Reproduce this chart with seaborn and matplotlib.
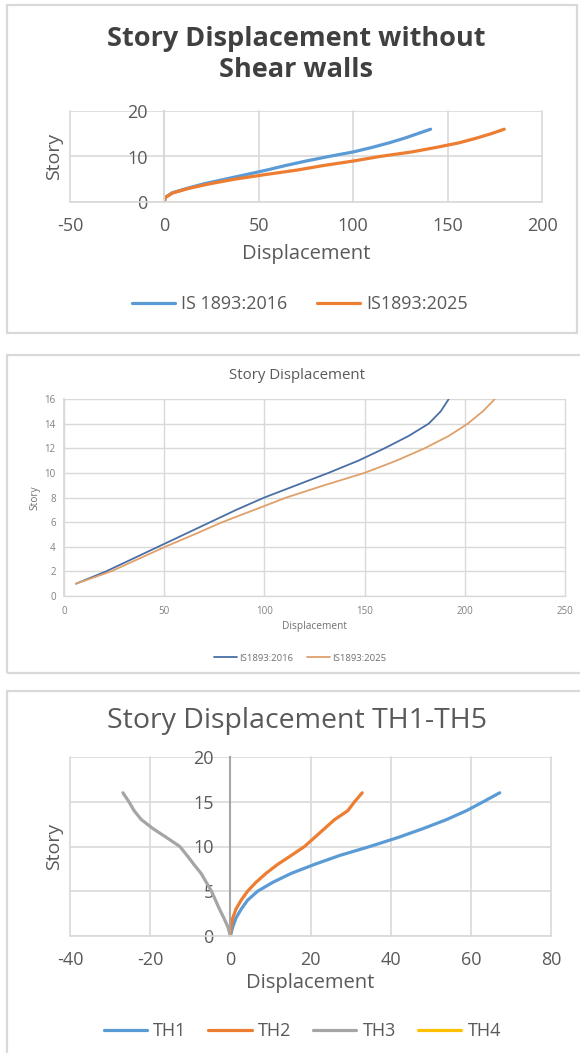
import matplotlib
matplotlib.use("Agg")
import matplotlib.pyplot as plt
from matplotlib.patches import Rectangle
import seaborn as sns
import pandas as pd

# ---------------- data ----------------
# Panel 1: Story Displacement without Shear walls
p1_story = list(range(0, 17))
p1_is2016 = [0, 0.5, 4, 12, 21, 32, 43, 54, 64, 75, 87, 100, 110, 119, 127, 134, 141]
p1_is2025 = [0, 0.5, 4.5, 13, 24, 37, 53, 70, 84, 100, 114, 131, 144, 156, 165, 173, 180]
p1_labels = ["IS 1893:2016", "IS1893:2025"]
p1_xticks = [-50, 0, 50, 100, 150, 200]
p1_yticks = [0, 10, 20]

# Panel 2: Story Displacement
p2_story = list(range(1, 17))
p2_is2016 = [6, 21, 34, 47, 60, 73, 86, 100, 116, 132, 147, 160, 172, 182, 188, 192]
p2_is2025 = [6, 23.5, 37, 50.5, 65, 79, 95, 111, 130, 150, 166, 180, 192, 201.5, 209, 215]
p2_labels = ["IS1893:2016", "IS1893:2025"]
p2_xticks = [0, 50, 100, 150, 200, 250]
p2_yticks = [0, 2, 4, 6, 8, 10, 12, 14, 16]

# Panel 3: Story Displacement TH1-TH5
p3_story = list(range(0, 17))
p3_th1 = [0, 0.6, 1.4, 2.7, 4.3, 6.8, 10.6, 15.2, 21, 27.3, 34.8, 41.8, 48.1, 53.9, 58.9, 63.1, 67.2]
p3_th2 = [0, 0.2, 0.6, 1.4, 2.7, 4.3, 6.4, 8.9, 11.8, 15.2, 18.5, 21, 23.5, 26, 29.3, 31, 32.9]
p3_th3 = [0, -0.6, -1.6, -2.7, -3.7, -4.7, -6.0, -7.3, -9.1, -10.8, -12.6, -15.9, -19.3, -22.2, -24.0, -25.3, -26.8]
p3_th4 = []
p3_labels = ["TH1", "TH2", "TH3", "TH4"]
p3_xticks = [-40, -20, 0, 20, 40, 60, 80]
p3_yticks = [0, 5, 10, 15, 20]

# ---------------- style ----------------
sns.set_theme(style="white")
plt.rcParams["font.family"] = ["Open Sans", "DejaVu Sans"]
plt.rcParams["axes.unicode_minus"] = False

W, H = 580, 1053
fig = plt.figure(figsize=(W / 100, H / 100), dpi=100)
fig.patch.set_facecolor("white")

GRID = "#d9d9d9"
TXT = "#595959"


def px_axes(x0, x1, ytop, ybot):
    return fig.add_axes([x0 / W, 1 - ybot / H, (x1 - x0) / W, (ybot - ytop) / H])


def panel_border(x0, x1, y0, y1):
    fig.add_artist(Rectangle((x0 / W, 1 - y1 / H), (x1 - x0) / W, (y1 - y0) / H,
                             transform=fig.transFigure, fill=False,
                             edgecolor=GRID, lw=1.6))


def style_axes(ax, xticks, yticks, fs, ypad, xpad, leftcol, gridlw=1.2, txtcol=TXT):
    ax.set_xlim(xticks[0], xticks[-1])
    ax.set_ylim(yticks[0], yticks[-1])
    ax.set_xticks(xticks)
    ax.set_yticks(yticks)
    ax.grid(True, color=GRID, lw=gridlw)
    ax.set_axisbelow(True)
    for ln in ax.get_xgridlines() + ax.get_ygridlines():
        ln.set_clip_on(False)
    ax.spines["top"].set_visible(False)
    ax.spines["right"].set_visible(False)
    ax.spines["bottom"].set_color(GRID)
    ax.spines["bottom"].set_linewidth(gridlw)
    ax.spines["left"].set_position(("data", 0))
    ax.spines["left"].set_color(leftcol)
    ax.spines["left"].set_linewidth(gridlw + 0.3)
    ax.tick_params(axis="both", length=0, labelsize=fs, labelcolor=txtcol)
    ax.tick_params(axis="y", pad=ypad)
    ax.tick_params(axis="x", pad=xpad)


# ---------------- panel 1 ----------------
panel_border(7, 577, 5, 333)
ax1 = px_axes(70, 542, 111, 202)
sns.lineplot(x=p1_is2016, y=p1_story, sort=False, estimator=None, ax=ax1,
             color="#5b9bd5", lw=2.3, label=p1_labels[0])
sns.lineplot(x=p1_is2025, y=p1_story, sort=False, estimator=None, ax=ax1,
             color="#ed7d31", lw=2.3, label=p1_labels[1])
style_axes(ax1, p1_xticks, p1_yticks, 13, 12, 10.5, GRID)
ax1.set_title("Story Displacement without\nShear walls", fontsize=19.5, fontweight="bold",
              color="#404040", x=0.479, y=1.626, va="center", linespacing=1.25, pad=0)
ax1.set_xlabel("Displacement", fontsize=14.5, color=TXT, va="center")
ax1.xaxis.set_label_coords(0.5, -0.571)
ax1.set_ylabel("Story", fontsize=14, color=TXT, va="center")
ax1.yaxis.set_label_coords(-0.034, 0.5)
ax1.legend(loc="center", bbox_to_anchor=(0.487, -1.121), ncol=2, frameon=False,
           fontsize=13, handlelength=2.4, columnspacing=1.6, handletextpad=0.35,
           labelcolor=TXT)

# ---------------- panel 2 ----------------
panel_border(7, 590, 355, 673)
ax2 = px_axes(64, 565, 399, 596)
sns.lineplot(x=p2_is2016, y=p2_story, sort=False, estimator=None, ax=ax2,
             color="#4a6fa5", lw=1.3, label=p2_labels[0])
sns.lineplot(x=p2_is2025, y=p2_story, sort=False, estimator=None, ax=ax2,
             color="#e0a06a", lw=1.3, label=p2_labels[1])
style_axes(ax2, p2_xticks, p2_yticks, 7, 6, 7, GRID, gridlw=1.0, txtcol="#808080")
ax2.set_title("Story Displacement", fontsize=10.8, color=TXT, x=0.465, y=1.117,
              va="center", pad=0)
ax2.set_xlabel("Displacement", fontsize=7.3, color="#707070", va="center")
ax2.xaxis.set_label_coords(0.5, -0.157)
ax2.set_ylabel("Story", fontsize=7.3, color="#707070", va="center")
ax2.yaxis.set_label_coords(-0.058, 0.5)
ax2.legend(loc="center", bbox_to_anchor=(0.471, -0.315), ncol=2, frameon=False,
           fontsize=6.8, handlelength=2.5, columnspacing=1.4, handletextpad=0.2,
           labelcolor="#707070")

# ---------------- panel 3 ----------------
panel_border(7, 590, 691, 1060)
ax3 = px_axes(70, 551, 757, 936)
sns.lineplot(x=p3_th1, y=p3_story, sort=False, estimator=None, ax=ax3,
             color="#5b9bd5", lw=2.3, label=p3_labels[0])
sns.lineplot(x=p3_th2, y=p3_story, sort=False, estimator=None, ax=ax3,
             color="#ed7d31", lw=2.3, label=p3_labels[1])
sns.lineplot(x=p3_th3, y=p3_story, sort=False, estimator=None, ax=ax3,
             color="#a5a5a5", lw=2.3, label=p3_labels[2])
ax3.plot(p3_th4, p3_th4, color="#ffc000", lw=2.3, label=p3_labels[3])
style_axes(ax3, p3_xticks, p3_yticks, 13, 12, 10.5, "#a6a6a6")
ax3.set_title("Story Displacement TH1-TH5", fontsize=20.5, color=TXT,
              x=0.472, y=1.201, va="center", pad=0)
ax3.set_xlabel("Displacement", fontsize=14.5, color=TXT, va="center")
ax3.xaxis.set_label_coords(0.5, -0.263)
ax3.set_ylabel("Story", fontsize=14, color=TXT, va="center")
ax3.yaxis.set_label_coords(-0.033, 0.5)
ax3.legend(loc="center", bbox_to_anchor=(0.483, -0.531), ncol=4, frameon=False,
           fontsize=13, handlelength=2.4, columnspacing=1.2, handletextpad=0.35,
           labelcolor=TXT)

fig.savefig("out.png", dpi=100, facecolor="white")
